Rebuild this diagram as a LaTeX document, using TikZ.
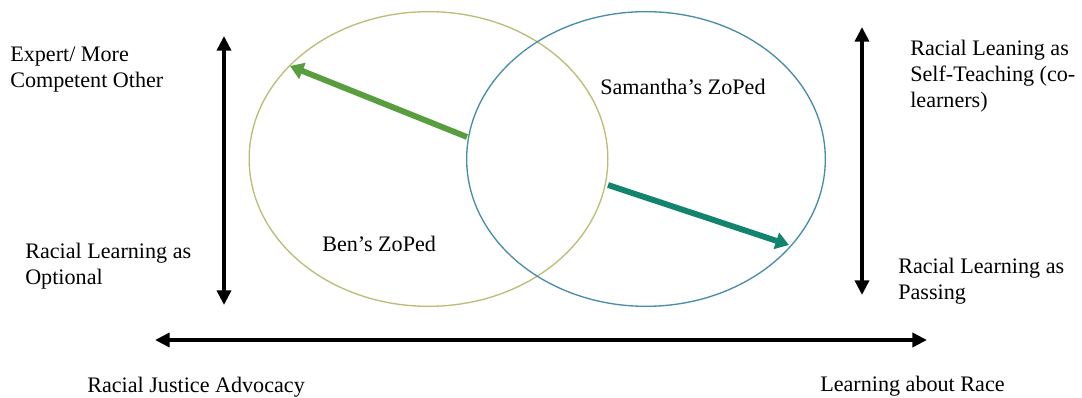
\documentclass[tikz,border=0pt]{standalone}
\usepackage{fontspec}
\setmainfont{Liberation Serif}
\usepackage{xcolor}
\definecolor{benline}{RGB}{188,188,118}
\definecolor{samline}{RGB}{72,140,168}
\definecolor{benarrow}{RGB}{88,158,62}
\definecolor{samarrow}{RGB}{18,132,110}
\usetikzlibrary{positioning, arrows.meta, shapes.geometric}

\begin{document}
\begin{tikzpicture}[
  x=0.75pt, y=-0.75pt,
  zone/.style={ellipse, draw, line width=1pt, inner sep=0pt,
              minimum width=269pt, minimum height=221pt},
  caption/.style={font=\fontsize{16.6}{19.5}\selectfont, align=left,
              anchor=base west, inner sep=0pt},
  dimarrow/.style={{Triangle[length=11pt,width=10.5pt]}-{Triangle[length=11pt,width=10.5pt]},
              line width=2.7pt},
  driftarrow/.style={-{Triangle[length=10pt,width=12.5pt]}, line width=4.4pt},
]
\useasboundingbox (0,0) rectangle (1082,398);

% Zones of proximal development
\node[zone, draw=benline] (ben) at (428.5,159) {};
\node[zone, draw=samline] (sam) at (646,159) {};
\node[caption] (benname) at (322,252) {Ben's ZoPed};
\node[caption] (samname) at (600,95) {Samantha's ZoPed};

% Pole labels (base is the last line)
\node[caption] (expert) at (10,88) {Expert/ More\\Competent Other};
\node[caption] (optional) at (25,285) {Racial Learning as\\Optional};
\node[caption] (selfteach) at (910,108) {Racial Leaning as\\Self-Teaching (co-\\learners)};
\node[caption] (passing) at (898,300) {Racial Learning as\\Passing};
\node[caption] (advocacy) at (87,393) {Racial Justice Advocacy};
\node[caption] (aboutrace) at (820,392) {Learning about Race};

% Arrow ends
\coordinate (ltop) at (224,36);
\coordinate (lbot) at (224,305);
\coordinate (rtop) at (862,27);
\coordinate (rbot) at (862,295);
\coordinate (hleft) at (155,340);
\coordinate (hright) at (927,340);
\coordinate (bentail) at (467,137);
\coordinate (benhead) at (290,66);
\coordinate (samtail) at (608,185);
\coordinate (samhead) at (789,245);

% Scales
\draw[dimarrow] (ltop) -- (lbot);
\draw[dimarrow] (rtop) -- (rbot);
\draw[dimarrow] (hleft) -- (hright);

% Movement inside the zones
\draw[driftarrow, benarrow] (bentail) -- (benhead);
\draw[driftarrow, samarrow] (samtail) -- (samhead);
\end{tikzpicture}
\end{document}
